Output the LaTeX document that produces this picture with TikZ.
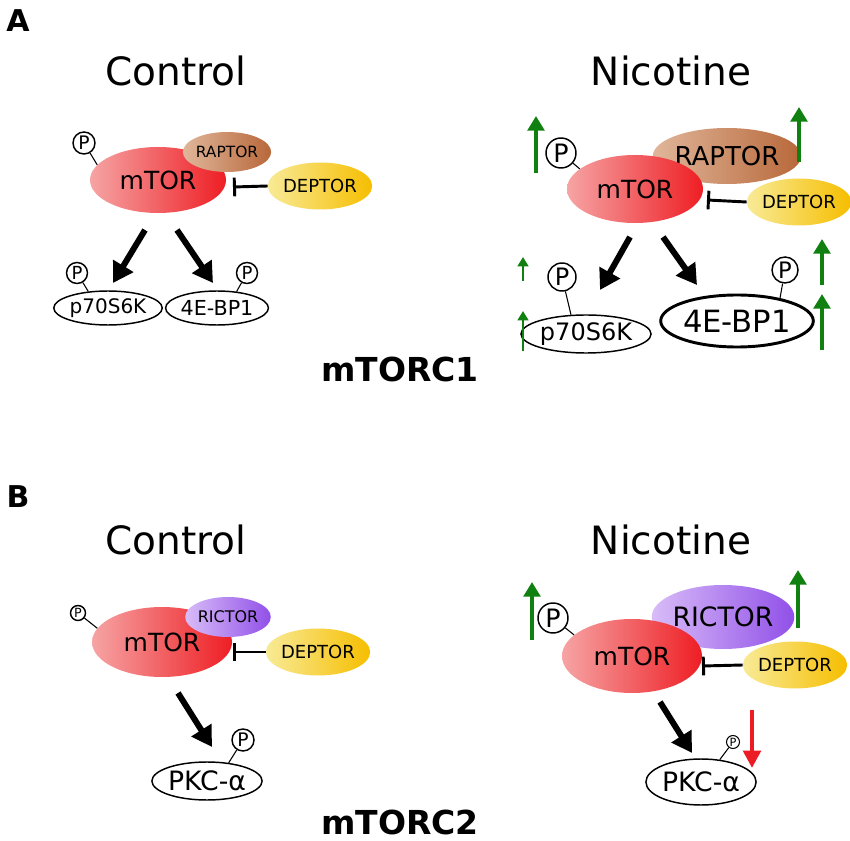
\documentclass[tikz,border=0pt]{standalone}
\usepackage{fontspec}
\setmainfont{DejaVu Sans}
\usetikzlibrary{shapes.geometric,arrows.meta}
\definecolor{mtorL}{RGB}{246,164,164}
\definecolor{mtorR}{RGB}{238,30,36}
\definecolor{raptorL}{RGB}{224,182,154}
\definecolor{raptorR}{RGB}{184,104,58}
\definecolor{deptorL}{RGB}{248,234,150}
\definecolor{deptorR}{RGB}{246,190,0}
\definecolor{rictorL}{RGB}{216,188,248}
\definecolor{rictorR}{RGB}{145,80,232}
\definecolor{upgreen}{RGB}{16,128,16}
\definecolor{downred}{RGB}{236,28,36}
\tikzset{
  fs/.style={font=\fontsize{#1}{#1}\selectfont},
  ell/.style 2 args={ellipse, inner sep=0pt, minimum width={1.5pt*#1}, minimum height={1.5pt*#2}},
  mtor/.style={left color=mtorL, right color=mtorR, fs=18.75pt},
  raptor/.style={left color=raptorL, right color=raptorR},
  rictor/.style={left color=rictorL, right color=rictorR},
  deptor/.style={ell={45}{23.5}, left color=deptorL, right color=deptorR, fs=13.5pt},
  subs/.style={draw=black, fill=white, line width=1.1pt},
  pcirc/.style 2 args={circle, draw=black, fill=white, line width=1.1pt, inner sep=0pt, minimum size={0.75pt*#1}, font=\fontsize{#2}{#2}\selectfont},
  stem/.style={line width=0.8pt},
  act/.style={line width=4.5pt, -{Triangle[length=15pt,width=17pt]}},
  inh/.style={line width=2.2pt, -{Bar[width=14pt]}},
  upbig/.style={upgreen, line width=3.6pt, -{Triangle[length=11pt,width=12.5pt]}},
  upsmall/.style={upgreen, line width=2.2pt, -{Triangle[length=7pt,width=8pt]}},
  downbig/.style={downred, line width=3.6pt, -{Triangle[length=13pt,width=13pt]}},
  ttl/.style={fs=29.25pt, anchor=base},
  panel/.style={font=\fontsize{22.5pt}{22.5pt}\selectfont\bfseries},
  cplx/.style={font=\fontsize{24.75pt}{24.75pt}\selectfont\bfseries, anchor=base}
}
\begin{document}
\begin{tikzpicture}[x=0.75pt,y=-0.75pt]
\useasboundingbox (0,0) rectangle (850,841);
% ---------------- Panel A ----------------
\node[panel] (labA) at (18,21) {A};
\node[ttl] (ctlA) at (176,86) {Control};
\node[ttl] (nicA) at (671,86) {Nicotine};
% Control
\node[ell={68}{33}, mtor] (mtorA) at (158,180) {mTOR};
\node[ell={36}{20}, raptor, fs=11.6pt] (raptorA) at (227,152) {RAPTOR};
\node[deptor] (deptorA) at (320,186) {DEPTOR};
\coordinate (barA) at (233,187);
\draw[inh] (deptorA.west) -- (barA);
\node[pcirc={22}{14pt}] (pA) at (84,143) {P};
\draw[stem] (pA) -- (mtorA.166);
\coordinate (a1s) at (145,230); \coordinate (a1e) at (113,283);
\coordinate (a2s) at (177,230); \coordinate (a2e) at (213,283);
\draw[act] (a1s) -- (a1e);
\draw[act] (a2s) -- (a2e);
\node[ell={41}{17}, subs, fs=15pt] (p70A) at (108,308) {p70S6K};
\node[ell={40}{17}, subs, fs=15.5pt] (ebpA) at (217,308) {4E-BP1};
\node[pcirc={21}{13.5pt}] (pp70A) at (77,273) {P};
\draw[stem] (pp70A) -- (p70A.140);
\node[pcirc={21}{13.5pt}] (pebpA) at (247,273) {P};
\draw[stem] (pebpA) -- (ebpA.40);
% Nicotine
\node[ell={61}{28}, raptor, fs=19.5pt] (raptorN) at (727,156) {RAPTOR};
\node[ell={68}{34}, mtor] (mtorN) at (635,189) {mTOR};
\node[deptor] (deptorN) at (799,202) {DEPTOR};
\coordinate (barN) at (707,200);
\draw[inh] (deptorN.west) -- (barN);
\node[pcirc={30}{19pt}] (pN) at (561,153) {P};
\draw[stem] (pN) -- (mtorN.160);
\coordinate (g1s) at (536,173); \coordinate (g1e) at (536,116);
\coordinate (g2s) at (799,162); \coordinate (g2e) at (799,107);
\draw[upbig] (g1s) -- (g1e);
\draw[upbig] (g2s) -- (g2e);
\coordinate (b1s) at (630,237); \coordinate (b1e) at (600,290);
\coordinate (b2s) at (663,237); \coordinate (b2e) at (697,285);
\draw[act] (b1s) -- (b1e);
\draw[act] (b2s) -- (b2e);
\node[ell={54}{19}, subs, fs=18pt] (p70N) at (586,334) {p70S6K};
\node[ell={71}{26}, subs, line width=2.2pt, fs=23pt] (ebpN) at (737,321) {4E-BP1};
\node[pcirc={28}{18pt}] (pp70N) at (562,277) {P};
\draw[stem] (pp70N) -- (p70N.128);
\node[pcirc={26}{17pt}] (pebpN) at (785,270) {P};
\draw[stem] (pebpN) -- (ebpN.28);
\coordinate (s1s) at (523,281); \coordinate (s1e) at (523,257);
\coordinate (s2s) at (523,351); \coordinate (s2e) at (523,311);
\draw[upsmall] (s1s) -- (s1e);
\draw[upsmall] (s2s) -- (s2e);
\coordinate (r1s) at (822,285); \coordinate (r1e) at (822,239);
\coordinate (r2s) at (822,350); \coordinate (r2e) at (822,294);
\draw[upbig] (r1s) -- (r1e);
\draw[upbig] (r2s) -- (r2e);
\node[cplx] (c1) at (400,382) {mTORC1};
% ---------------- Panel B ----------------
\node[panel] (labB) at (18,497) {B};
\node[ttl] (ctlB) at (176,554) {Control};
\node[ttl] (nicB) at (671,554) {Nicotine};
% Control
\node[ell={70}{35}, mtor] (mtorBC) at (162,642) {mTOR};
\node[ell={36}{20}, rictor, fs=12pt] (rictorBC) at (228,617) {RICTOR};
\node[deptor] (deptorBC) at (318,652) {DEPTOR};
\coordinate (barBC) at (233,652);
\draw[inh] (deptorBC.west) -- (barBC);
\node[pcirc={15}{9.5pt}] (pBC) at (78,613) {P};
\draw[stem] (pBC) -- (mtorBC.168);
\coordinate (c1s) at (178,693); \coordinate (c1e) at (212,747);
\draw[act] (c1s) -- (c1e);
\node[ell={51}{19}, subs, fs=20pt] (pkcBC) at (207,781) {PKC-α};
\node[pcirc={22}{14pt}] (ppkcBC) at (243,740) {P};
\draw[stem] (ppkcBC) -- (pkcBC.40);
% Nicotine
\node[ell={60}{32}, rictor, fs=20pt] (rictorBN) at (723,617) {RICTOR};
\node[ell={70}{37}, mtor] (mtorBN) at (632,656) {mTOR};
\node[deptor] (deptorBN) at (795,665) {DEPTOR};
\coordinate (barBN) at (702,666);
\draw[inh] (deptorBN.west) -- (barBN);
\node[pcirc={30}{19pt}] (pBN) at (553,618) {P};
\draw[stem] (pBN) -- (mtorBN.160);
\coordinate (h1s) at (532,640); \coordinate (h1e) at (532,582);
\coordinate (h2s) at (798,628); \coordinate (h2e) at (798,570);
\draw[upbig] (h1s) -- (h1e);
\draw[upbig] (h2s) -- (h2e);
\coordinate (d1s) at (660,702); \coordinate (d1e) at (692,753);
\draw[act] (d1s) -- (d1e);
\node[ell={51}{23}, subs, fs=20pt] (pkcBN) at (701,782) {PKC-α};
\node[pcirc={13}{8.5pt}, line width=0.8pt] (ppkcBN) at (733,742) {P};
\draw[stem] (ppkcBN) -- (pkcBN.50);
\coordinate (rds) at (752,710); \coordinate (rde) at (752,768);
\draw[downbig] (rds) -- (rde);
\node[cplx] (c2) at (400,834) {mTORC2};
\end{tikzpicture}
\end{document}
